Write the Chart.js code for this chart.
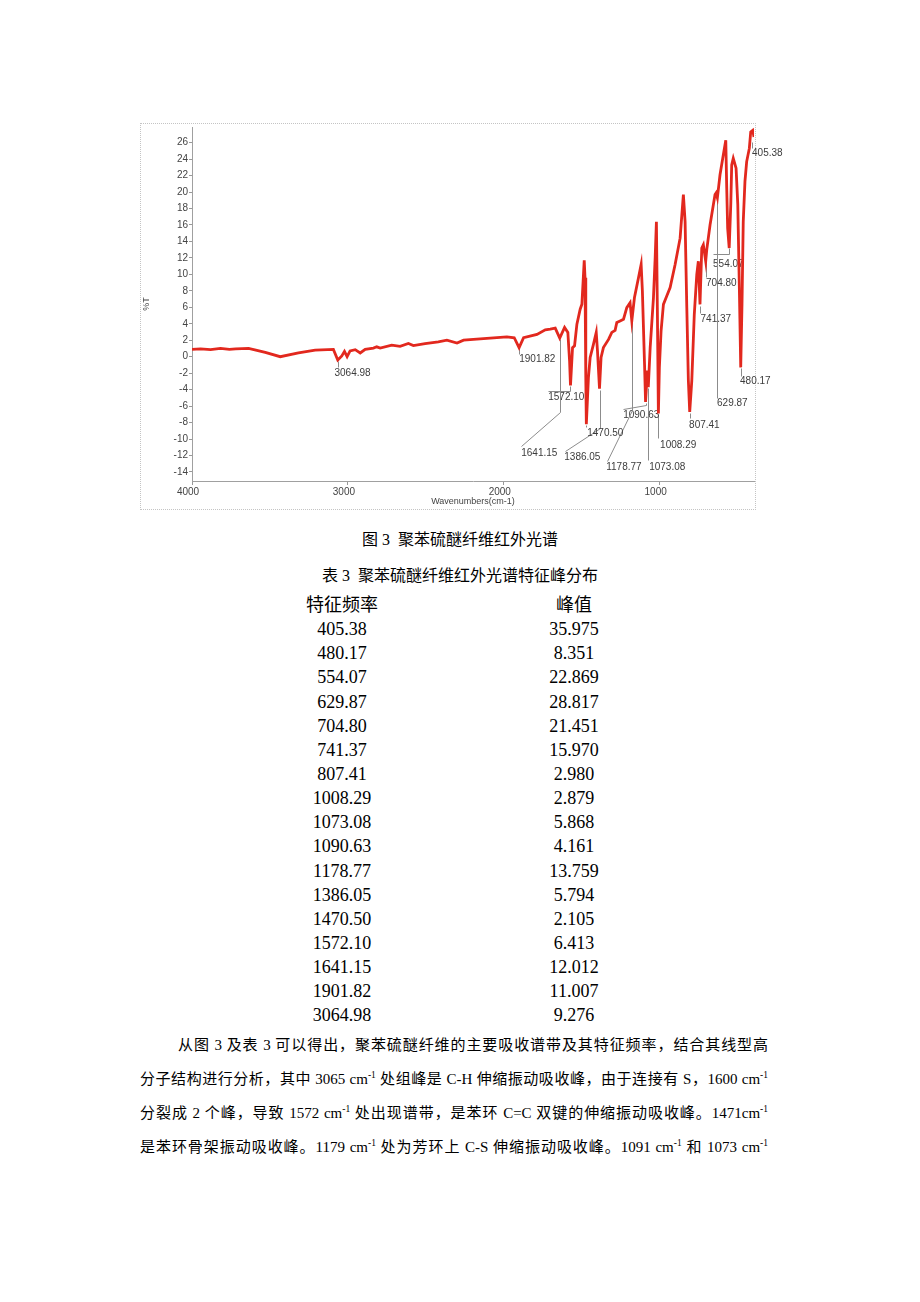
<!DOCTYPE html>
<html lang="zh-CN">
<head>
<meta charset="UTF-8">
<title>聚苯硫醚纤维红外光谱</title>
<script src="https://cdn.jsdelivr.net/npm/chart.js"></script>
<style>
    body {
        margin: 0;
        width: 920px;
        height: 1302px;
        background: #fff;
        position: relative;
        font-family: "Liberation Serif", "Noto Sans CJK SC", serif;
        color: #000;
    }

    .frame {
        position: absolute;
        left: 140px;
        top: 123px;
        width: 614px;
        height: 385px;
        border: 1px dotted #c4c4c4;
    }

    #irChart {
        position: absolute;
        left: 140px;
        top: 120px;
    }

    .caption {
        position: absolute;
        left: 0;
        width: 920px;
        text-align: center;
        font-size: 16px;
        line-height: 20px;
    }

    #peakTable {
        position: absolute;
        top: 593px;
        left: 0;
        width: 920px;
        font-size: 18px;
    }

    #peakTable div {
        height: 24.15px;
        line-height: 24.15px;
        position: relative;
    }

    #peakTable span {
        position: absolute;
        width: 200px;
        text-align: center;
    }

    .col1 { left: 242px; }
    .col2 { left: 474px; }

    .para {
        position: absolute;
        left: 140px;
        width: 628px;
        font-size: 15px;
        line-height: 20px;
        text-align: justify;
        text-align-last: justify;
    }

    .para sup {
        font-size: 9.5px;
        vertical-align: 6px;
        line-height: 0;
    }
</style>
</head>
<body>
    <div class="frame"></div>
    <canvas id="irChart" width="650" height="395"></canvas>

    <div class="caption" style="top:530px">图 3&nbsp; 聚苯硫醚纤维红外光谱</div>
    <div class="caption" style="top:566px">表 3&nbsp; 聚苯硫醚纤维红外光谱特征峰分布</div>

    <div id="peakTable"></div>

    <div class="para" style="top:1035px; left:178px; width:590px">从图 3 及表 3 可以得出，聚苯硫醚纤维的主要吸收谱带及其特征频率，结合其线型高</div>
    <div class="para" style="top:1069px">分子结构进行分析，其中 3065 cm<sup>-1</sup> 处组峰是 C-H 伸缩振动吸收峰，由于连接有 S，1600 cm<sup>-1</sup></div>
    <div class="para" style="top:1103px">分裂成 2 个峰，导致 1572 cm<sup>-1</sup> 处出现谱带，是苯环 C=C 双键的伸缩振动吸收峰。1471cm<sup>-1</sup></div>
    <div class="para" style="top:1137px">是苯环骨架振动吸收峰。1179 cm<sup>-1</sup> 处为芳环上 C-S 伸缩振动吸收峰。1091 cm<sup>-1</sup> 和 1073 cm<sup>-1</sup></div>

    <script>
        // spectrum: wavenumber (cm-1) and %T
        const wavenumber = [
            4000, 3945, 3881, 3817, 3760, 3720, 3637, 3530, 3434, 3317, 3210, 3093,
            3064.98, 3039, 3022, 3005, 2986, 2953, 2921, 2889, 2836, 2815, 2793, 2719,
            2665, 2612, 2580, 2505, 2420, 2365, 2300, 2258, 2130, 1980, 1933, 1901.82,
            1873, 1787, 1734, 1702, 1670, 1641.15, 1610, 1589, 1578, 1572.10, 1559, 1546,
            1531, 1510, 1499, 1484, 1479, 1474, 1470.50, 1457, 1446, 1425, 1407, 1399,
            1386.05, 1376, 1361, 1328, 1307, 1286, 1275, 1254, 1232, 1211, 1190, 1178.77,
            1162, 1136, 1119, 1111, 1097, 1090.63, 1079, 1073.08, 1061, 1040, 1029, 1021,
            1015, 1008.29, 1002, 991, 976, 954, 933, 901, 869, 848, 837, 826,
            816, 807.41, 794, 778, 762, 752, 741.37, 730, 720, 704.80, 698, 677,
            645, 638, 629.87, 613, 592, 576, 570, 564, 554.07, 544, 538, 528,
            510, 499, 489, 480.17, 472, 464, 453, 442, 425, 416, 403, 395
        ];
        const transmittance = [
            0.88, 0.95, 0.85, 1.0, 0.9, 0.95, 1.0, 0.52, 0.0, 0.45, 0.8, 0.88,
            -0.4, 0.1, 0.65, 0.0, 0.7, 0.85, 0.45, 0.9, 1.05, 1.2, 1.05, 1.4,
            1.25, 1.6, 1.35, 1.6, 1.8, 2.0, 1.65, 2.0, 2.2, 2.4, 2.3, 1.1,
            2.3, 2.7, 3.26, 3.35, 3.47, 2.26, 3.55, 2.95, -0.5, -3.5, 1.1, 1.33,
            3.95, 5.77, 6.37, 11.7, 9.6, -2.5, -8.2, -2.5, -0.1, 1.5, 2.95, 0.7,
            -3.9, -0.1, 1.1, 2.1, 2.95, 3.2, 4.15, 4.35, 4.55, 5.95, 6.55, 4.35,
            7.15, 9.6, 11.2, 8.0, -1.0, -5.5, -1.7, -3.7, 1.1, 7.15, 12.0, 16.4,
            5.95, -6.9, -1.3, 3.15, 6.35, 7.4, 8.4, 11.2, 14.4, 19.7, 16.4, 5.95,
            -2.9, -6.7, -2.9, 5.15, 10.0, 11.6, 6.35, 13.2, 13.6, 11.6, 13.0, 16.0,
            19.7, 19.9, 19.3, 22.1, 24.5, 26.3, 20.5, 15.6, 13.2, 18.5, 23.3, 24.1,
            22.9, 18.5, 8.4, -1.3, 6.35, 16.4, 21.3, 23.7, 25.3, 27.3, 27.5, 26.7
        ];

        // table 3
        const peakFreq = ['405.38', '480.17', '554.07', '629.87', '704.80', '741.37', '807.41', '1008.29',
            '1073.08', '1090.63', '1178.77', '1386.05', '1470.50', '1572.10', '1641.15', '1901.82', '3064.98'];
        const peakValue = ['35.975', '8.351', '22.869', '28.817', '21.451', '15.970', '2.980', '2.879',
            '5.868', '4.161', '13.759', '5.794', '2.105', '6.413', '12.012', '11.007', '9.276'];

        const xTicks = [4000, 3000, 2000, 1000];
        const yTicks = [-14, -12, -10, -8, -6, -4, -2, 0, 2, 4, 6, 8, 10, 12, 14, 16, 18, 20, 22, 24, 26];

        // leader lines and label spots, in axis units, same order as peakFreq
        const noteLayout = [
            { path: [[405.38, 26.1], [405.38, 25.4]], text: [407.8, 24.7] },
            { path: [[480.17, -1.4], [480.17, -2.3]], text: [484.7, -3.0] },
            { path: [[554.07, 13.2], [554.07, 12.45], [657.6, 12.45]], text: [657.6, 11.25] },
            { path: [[629.87, 19.2], [629.87, -5.0]], text: [632, -5.7] },
            { path: [[704.8, 11.5], [704.8, 9.7]], text: [702.5, 8.95] },
            { path: [[741.37, 6.2], [741.37, 5.3]], text: [737.8, 4.6] },
            { path: [[807.41, -6.8], [807.41, -7.5]], text: [811.4, -8.35] },
            { path: [[1008.29, -7.0], [1008.29, -9.9]], text: [997.3, -10.75] },
            { path: [[1073.08, -3.8], [1073.08, -12.6]], text: [1067.7, -13.4] },
            { path: [[1090.63, -5.6], [1090.63, -5.9], [1234.3, -6.4]], text: [1234.3, -7.1] },
            { path: [[1178.77, 4.2], [1178.77, -6.5], [1336.8, -12.7]], text: [1343, -13.4] },
            { path: [[1386.05, -4.0], [1386.05, -8.7], [1605.9, -11.4]], text: [1612, -12.2] },
            { path: [[1470.5, -8.3], [1470.5, -8.6]], text: [1465, -9.3] },
            { path: [[1572.1, -3.6], [1572.1, -4.2], [1714.9, -4.2]], text: [1715, -4.95] },
            { path: [[1641.15, 2.2], [1641.15, -6.7], [1887.9, -10.9]], text: [1888, -11.7] },
            { path: [[1901.82, 1.0], [1901.82, 0.36]], text: [1901, -0.36] },
            { path: [[3064.98, -0.5], [3064.98, -1.2]], text: [3086, -2.05] }
        ];

        const peakNotes = {
            id: 'peakNotes',
            beforeDatasetsDraw(chart) {
                const { ctx, scales: { x, y } } = chart;
                ctx.save();
                ctx.strokeStyle = '#8c8c8c';
                ctx.lineWidth = 1;
                ctx.fillStyle = '#3c3c3c';
                ctx.font = '10px "Liberation Sans", Arial, sans-serif';
                ctx.textBaseline = 'middle';
                noteLayout.forEach((n, i) => {
                    ctx.beginPath();
                    n.path.forEach(([w, v], j) => {
                        const px = Math.round(x.getPixelForValue(w)) + 0.5;
                        const py = Math.round(y.getPixelForValue(v)) + 0.5;
                        if (j) ctx.lineTo(px, py); else ctx.moveTo(px, py);
                    });
                    ctx.stroke();
                    ctx.fillText(peakFreq[i], x.getPixelForValue(n.text[0]), y.getPixelForValue(n.text[1]));
                });
                ctx.restore();
            }
        };

        function buildTable() {
            const box = document.getElementById('peakTable');
            let html = '<div><span class="col1">特征频率</span><span class="col2">峰值</span></div>';
            peakFreq.forEach((f, i) => {
                html += '<div><span class="col1">' + f + '</span><span class="col2">' + peakValue[i] + '</span></div>';
            });
            box.innerHTML = html;
        }

        function renderChart() {
            const ctx = document.getElementById('irChart').getContext('2d');
            const axisFont = { family: '"Liberation Sans", Arial, sans-serif', size: 10 };

            new Chart(ctx, {
                type: 'line',
                data: {
                    datasets: [{
                        data: wavenumber.map((w, i) => ({ x: w, y: transmittance[i] })),
                        borderColor: '#e2281e',
                        borderWidth: 2.8,
                        pointRadius: 0,
                        tension: 0
                    }]
                },
                options: {
                    responsive: false,
                    animation: false,
                    devicePixelRatio: 1,
                    layout: { padding: { top: 4, right: 36, bottom: 4, left: 0 } },
                    plugins: { legend: { display: false }, tooltip: { enabled: false } },
                    scales: {
                        x: {
                            type: 'linear',
                            reverse: true,
                            min: 395,
                            max: 4000,
                            afterBuildTicks: s => { s.ticks = xTicks.map(v => ({ value: v })); },
                            afterFit: s => { s.height = 30; },
                            ticks: {
                                autoSkip: false, color: '#444', font: axisFont, padding: 1, labelOffset: -4, maxRotation: 0,
                                callback: v => String(v)
                            },
                            grid: { drawOnChartArea: false, tickLength: 4, color: '#999' },
                            border: { color: '#a0a0a0' },
                            title: { display: true, text: 'Wavenumbers(cm-1)', color: '#444', font: { family: axisFont.family, size: 9 }, padding: { top: 0, bottom: 4 } }
                        },
                        y: {
                            min: -15.1,
                            max: 27.9,
                            afterBuildTicks: s => { s.ticks = yTicks.map(v => ({ value: v })); },
                            afterFit: s => { s.width = 52; },
                            ticks: { autoSkip: false, color: '#444', font: axisFont, padding: 1, callback: v => String(v) },
                            grid: { drawOnChartArea: false, tickLength: 3, color: '#999' },
                            border: { color: '#a0a0a0' },
                            title: { display: true, text: '%T', color: '#444', font: { family: axisFont.family, size: 9 }, padding: { top: 1, bottom: 0 } }
                        }
                    }
                },
                plugins: [peakNotes]
            });
        }

        buildTable();
        document.addEventListener('DOMContentLoaded', renderChart);
    </script>
</body>
</html>
